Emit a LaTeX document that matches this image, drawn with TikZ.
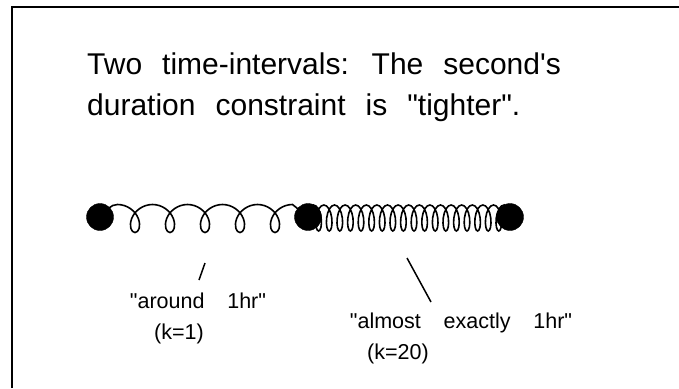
\documentclass[tikz,border=0pt]{standalone}
\usepackage{fontspec}
\newfontfamily\figfont[WordSpace=2.4]{Liberation Sans}
\newfontfamily\notefont[WordSpace=3.8,Scale=1.001]{Liberation Sans}
\usetikzlibrary{positioning,decorations,backgrounds}

% a side view of a helical spring: flat wire on top, loops hanging below
\pgfdeclaredecoration{spring}{lead}{
  \state{lead}[width=0.5*\pgfdecorationsegmentlength, next state=turn]{
    \pgfpathcurveto
      {\pgfpoint{0.2*\pgfdecorationsegmentlength}{0.6*\pgfdecorationsegmentamplitude}}
      {\pgfpoint{0.3*\pgfdecorationsegmentlength}{\pgfdecorationsegmentamplitude}}
      {\pgfpoint{0.5*\pgfdecorationsegmentlength}{\pgfdecorationsegmentamplitude}}
  }
  \state{turn}[switch if less than=\pgfdecorationsegmentlength to final,
               width=\pgfdecorationsegmentlength]{
    \pgfmathsetmacro\springL{\pgfdecorationsegmentlength}
    \pgfmathsetmacro\springA{\pgfdecorationsegmentamplitude}
    \pgfmathsetmacro\springC{\pgfdecorationsegmentaspect*\springA}
    \pgfpathcurveto{\pgfpoint{\springL/12+0.5523*\springC}{\springA}}
                   {\pgfpoint{\springL/6+\springC}{0.5523*\springA}}
                   {\pgfpoint{\springL/4+\springC}{0}}
    \pgfpathcurveto{\pgfpoint{\springL/3+\springC}{-0.5523*\springA}}
                   {\pgfpoint{5*\springL/12+0.5523*\springC}{-\springA}}
                   {\pgfpoint{\springL/2}{-\springA}}
    \pgfpathcurveto{\pgfpoint{7*\springL/12-0.5523*\springC}{-\springA}}
                   {\pgfpoint{2*\springL/3-\springC}{-0.5523*\springA}}
                   {\pgfpoint{3*\springL/4-\springC}{0}}
    \pgfpathcurveto{\pgfpoint{5*\springL/6-\springC}{0.5523*\springA}}
                   {\pgfpoint{11*\springL/12-0.5523*\springC}{\springA}}
                   {\pgfpoint{\springL}{\springA}}
  }
  \state{final}{\pgfpathlineto{\pgfpointdecoratedpathlast}}
}

\begin{document}
\begin{tikzpicture}[
  x=1pt, y=-1pt,
  mass/.style={circle, fill=black, draw=black, minimum size=27pt, inner sep=0pt},
  title/.style={font=\figfont\fontsize{30}{41}\selectfont, align=left, inner sep=0pt},
  note/.style={font=\notefont\fontsize{21.5}{24}\selectfont, inner sep=0pt},
  loosesp/.style={line width=1.6pt, decorate,
    decoration={spring, amplitude=14pt, segment length=35pt, aspect=0.86, raise=-1.5pt}},
  tightsp/.style={line width=1.6pt, decorate,
    decoration={spring, amplitude=13pt, segment length=10.6pt, aspect=0.4, raise=-1pt}},
  tick/.style={line width=1.5pt}
]
\useasboundingbox (0,0) rectangle (679,388);

% frame (only top and left edges show)
\draw[line width=1.5pt] (12,388) -- (12,7) -- (679,7);

% caption
\node[title, anchor=north west] (head) at (87,53)
  {Two time-intervals:  The second's\\duration constraint is "tighter".};

% the three time points
\node[mass] (p0) at (100,217) {};
\node[mass] (p1) at (308,217) {};
\node[mass] (p2) at (510,217) {};

% springs, behind the points
\begin{scope}[on background layer]
\draw[loosesp] (p0.center) -- (p1.center);
\draw[tightsp] (p1.center) -- (p2.center);
\end{scope}

% labels
\node[note, anchor=base] (loose) at (198,308) {"around 1hr"};
\node[note, anchor=base] (kone) at (179,339) {(k=1)};
\node[note, anchor=base] (tight) at (461,328) {"almost exactly 1hr"};
\node[note, anchor=base] (ktwenty) at (398,359) {(k=20)};

% pointer strokes
\coordinate (s1a) at (199,280);
\coordinate (s1b) at (205,263);
\coordinate (s2a) at (407,258);
\coordinate (s2b) at (431,302);
\draw[tick] (s1a) -- (s1b);
\draw[tick] (s2a) -- (s2b);

\end{tikzpicture}
\end{document}
